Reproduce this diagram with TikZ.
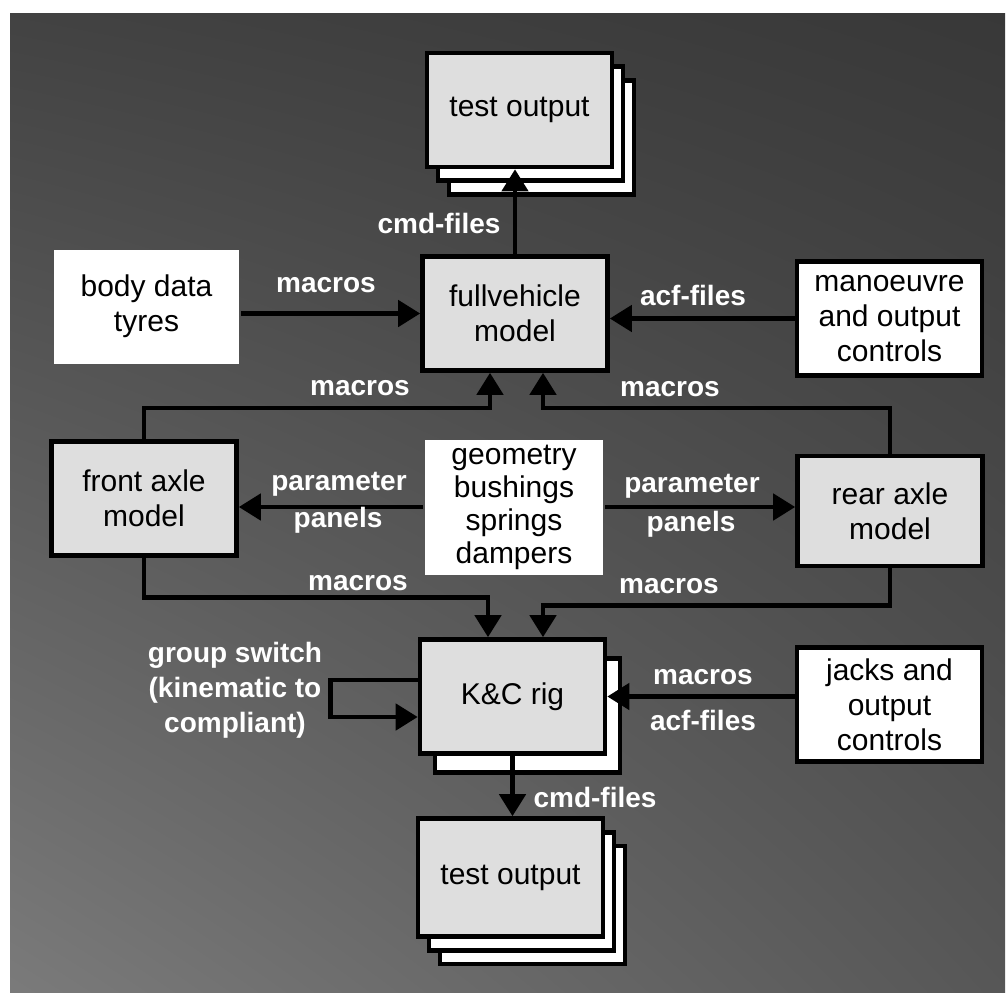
\documentclass[tikz,border=0pt]{standalone}
\usepackage{fontspec}
\setmainfont{Liberation Sans}
\usetikzlibrary{positioning, arrows.meta, calc, shadows, shadings}

\begin{document}
\begin{tikzpicture}[
  x=0.5pt, y=-0.5pt,
  box/.style={
    draw,
    line width=2.3pt,
    minimum width=92.5pt,
    minimum height=57pt,
    inner sep=2pt,
    align=center,
    font=\fontsize{15}{17.5}\selectfont,
  },
  model/.style={box, fill=black!13},
  input/.style={box, fill=white},
  datain/.style={input, draw=none},
  sheet/.style={general shadow={shadow xshift=#1, shadow yshift=-1.25*#1, fill=white, draw=black, line width=2.3pt}},
  docs/.style={model, sheet=11pt, sheet=5.5pt},
  rig/.style={model, sheet=7.5pt},
  link/.style={line width=2.3pt, -{Triangle[length=11pt, width=13pt]}},
  lbl/.style={text=white, font=\bfseries\fontsize{14}{17.5}\selectfont, inner sep=0pt, align=center},
]
\useasboundingbox (0,0) rectangle (1007,1002);

% --- background ---
\shade[upper left=black!74, upper right=black!78, lower left=black!52, lower right=black!66]
  (10,13) rectangle (1005,992);

% --- models ---
\node[docs] (TopOut) at (519.5,110) {test output};
\node[model] (FullVeh) at (515,313.5) {fullvehicle\\model};
\node[model] (FrontAxle) at (144,498.5) {front axle\\model};
\node[model, minimum height=55pt] (RearAxle) at (890,511) {rear axle\\model};
\node[rig] (KCRig) at (512.5,696.5) {K\&C rig};
\node[docs, minimum height=59pt] (BotOut) at (510.5,877.5) {test output};

% --- inputs ---
\node[datain] (BodyData) at (146.5,306.5) {body data\\tyres};
\node[input] (Manoeuvre) at (889.5,318.5) {manoeuvre\\and output\\controls};
\node[datain, minimum width=89pt, minimum height=67.5pt,
      font=\fontsize{15}{16.5}\selectfont] (Geometry) at (514,507)
  {geometry\\bushings\\springs\\dampers};
\node[input] (Jacks) at (889.5,704.5) {jacks and\\output\\controls};

% --- fullvehicle connections ---
\coordinate (FVin1) at ($(FullVeh.south)+(-25,0)$);
\coordinate (FVin2) at ($(FullVeh.south)+(28,0)$);

\draw[link] (FullVeh.north) -- (FullVeh.north |- TopOut.south);
\draw[link] (BodyData.east |- FullVeh.west) -- (FullVeh.west);
\draw[link] (Manoeuvre.west) -- (Manoeuvre.west -| FullVeh.east);
\draw[link] (FrontAxle.north) |- ($(FVin1)+(0,35)$) -- (FVin1);
\draw[link] (RearAxle.north) |- ($(FVin2)+(0,35)$) -- (FVin2);

% --- parameter panels ---
\draw[link] (Geometry.west) -- (Geometry.west -| FrontAxle.east);
\draw[link] (Geometry.east) -- (Geometry.east -| RearAxle.west);

% --- K&C rig connections ---
\coordinate (KCin1) at ($(KCRig.north)+(-24.5,0)$);
\coordinate (KCin2) at ($(KCRig.north)+(30.5,0)$);
\coordinate (LoopOut) at ($(KCRig.west)+(0,-16.5)$);
\coordinate (LoopIn) at ($(KCRig.west)+(0,20.5)$);

\draw[link] (FrontAxle.south) |- ($(KCin1)+(0,-40)$) -- (KCin1);
\draw[link] (RearAxle.south) |- ($(KCin2)+(0,-32)$) -- (KCin2);
\draw[link] (LoopOut) -- ++(-87,0) |- (LoopIn);
\draw[link] (KCRig.east -| Jacks.west) -- (KCRig.east);
\draw[link] (KCRig.south) -- (KCRig.south |- BotOut.north);

% --- labels ---
\node[lbl] (CmdTop) at (439,223) {cmd-files};
\node[lbl] (MacBody) at (326,285) {macros};
\node[lbl] (AcfTop) at (693,295) {acf-files};
\node[lbl] (MacFront) at (360,388) {macros};
\node[lbl] (MacRear) at (670,389) {macros};
\node[lbl] (ParFront) at (339,484) {parameter};
\node[lbl] (PanFront) at (338,520) {panels};
\node[lbl] (ParRear) at (692,486) {parameter};
\node[lbl] (PanRear) at (691,524) {panels};
\node[lbl] (MacKC1) at (358,583) {macros};
\node[lbl] (MacKC2) at (669,586) {macros};
\node[lbl] (GroupSw) at (235,690) {group switch\\(kinematic to\\compliant)};
\node[lbl] (MacJacks) at (703,677) {macros};
\node[lbl] (AcfJacks) at (703,720) {acf-files};
\node[lbl] (CmdBot) at (595,797) {cmd-files};

\end{tikzpicture}
\end{document}
